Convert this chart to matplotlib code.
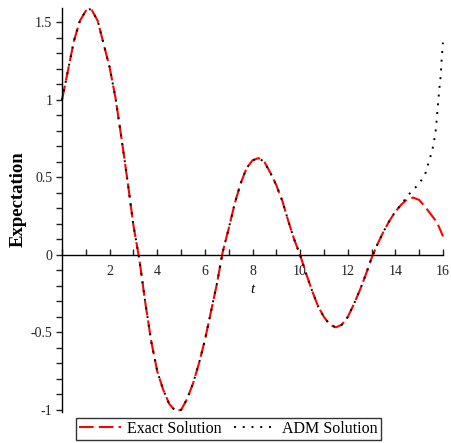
import matplotlib.pyplot as plt
from matplotlib.ticker import MultipleLocator, FuncFormatter

plt.rcParams["font.family"] = ["Liberation Serif", "DejaVu Serif"]
plt.rcParams["axes.unicode_minus"] = False

# values
t_exact = [0, 0.25, 0.5, 0.75, 1.0, 1.15, 1.25, 1.5, 1.75, 2.0, 2.25, 2.5, 2.75,
           3.0, 3.25, 3.5, 3.75, 4.0, 4.25, 4.5, 4.75, 5.0, 5.25, 5.5, 5.75,
           6.0, 6.25, 6.5, 6.75, 7.0, 7.25, 7.5, 7.75, 8.0, 8.25, 8.5, 8.75,
           9.0, 9.25, 9.5, 9.75, 10.0, 10.25, 10.5, 10.75, 11.0, 11.25, 11.5,
           11.75, 12.0, 12.25, 12.5, 12.75, 13.0, 13.25, 13.5, 13.75, 14.0,
           14.25, 14.5, 14.75, 15.0, 15.25, 15.5, 15.75, 16.0]
exact = [1.0, 1.19, 1.38, 1.51, 1.575, 1.585, 1.58, 1.51, 1.36, 1.21, 1.01, 0.75, 0.48,
         0.19, -0.03, -0.31, -0.56, -0.75, -0.87, -0.96, -1.005, -1.0, -0.93, -0.83, -0.70,
         -0.55, -0.37, -0.19, 0.02, 0.17, 0.33, 0.46, 0.56, 0.61, 0.625, 0.60, 0.53,
         0.45, 0.35, 0.22, 0.10, 0.0, -0.12, -0.23, -0.33, -0.40, -0.45, -0.467,
         -0.45, -0.40, -0.32, -0.23, -0.13, -0.02, 0.07, 0.15, 0.22, 0.28,
         0.325, 0.36, 0.37, 0.355, 0.31, 0.26, 0.21, 0.12]

t_adm = t_exact[:59] + [14.5, 14.75, 15.0, 15.25, 15.5, 15.6, 15.7, 15.8, 15.85, 15.9, 15.95, 16.0]
adm = exact[:59] + [0.38, 0.42, 0.46, 0.52, 0.65, 0.71, 0.81, 0.99, 1.08, 1.15, 1.28, 1.37]

fig = plt.figure(figsize=(4.51, 4.43), dpi=100)
ax = fig.add_axes([62/451, 1 - 412/443, 381/451, 404/443])

ax.plot(t_exact, exact, color="red", lw=1.5, linestyle=(0, (7, 2.5)),
        label="Exact Solution", clip_on=False)
ax.plot(t_adm, adm, color="black", lw=1.4, linestyle=(0, (1, 3.5)),
        label="ADM Solution", clip_on=False)

ax.set_xlim(0, 16)
ax.set_ylim(-1.013, 1.593)

ax.spines["top"].set_visible(False)
ax.spines["right"].set_visible(False)
ax.spines["bottom"].set_position(("data", 0))
ax.spines["left"].set_linewidth(1.0)
ax.spines["bottom"].set_linewidth(1.0)

ax.xaxis.set_major_locator(MultipleLocator(2))
ax.xaxis.set_minor_locator(MultipleLocator(1))
ax.yaxis.set_major_locator(MultipleLocator(0.5))
ax.yaxis.set_minor_locator(MultipleLocator(0.1))
ax.set_xticks([2, 4, 6, 8, 10, 12, 14, 16])
ax.set_xticklabels(["2", "4", "6", "8", "10", "12", "14", "16"])
ax.yaxis.set_major_formatter(FuncFormatter(lambda v, p: "%g" % round(v, 2)))

ax.tick_params(axis="x", which="both", direction="in", length=4, width=1,
               pad=7, labelsize=10, colors="#222222")
ax.tick_params(axis="y", which="both", direction="out", length=4, width=1,
               pad=3, labelsize=10, colors="#222222")

ax.text(8, -0.225, "t", style="italic", fontsize=11, ha="center", va="center")
fig.text(18/451, 1 - 199/443, "Expectation", rotation=90, fontsize=13.5,
         fontweight="bold", ha="center", va="center")

leg = fig.legend(loc="center", bbox_to_anchor=(228.5/451, 1 - 429/443), ncol=2,
                 fontsize=11.5, frameon=True, fancybox=False, edgecolor="black",
                 handlelength=2.6, columnspacing=0.8, handletextpad=0.4,
                 borderpad=0.2, borderaxespad=0)
leg.get_frame().set_linewidth(1.0)

plt.savefig("out.png", dpi=100)
plt.close()
